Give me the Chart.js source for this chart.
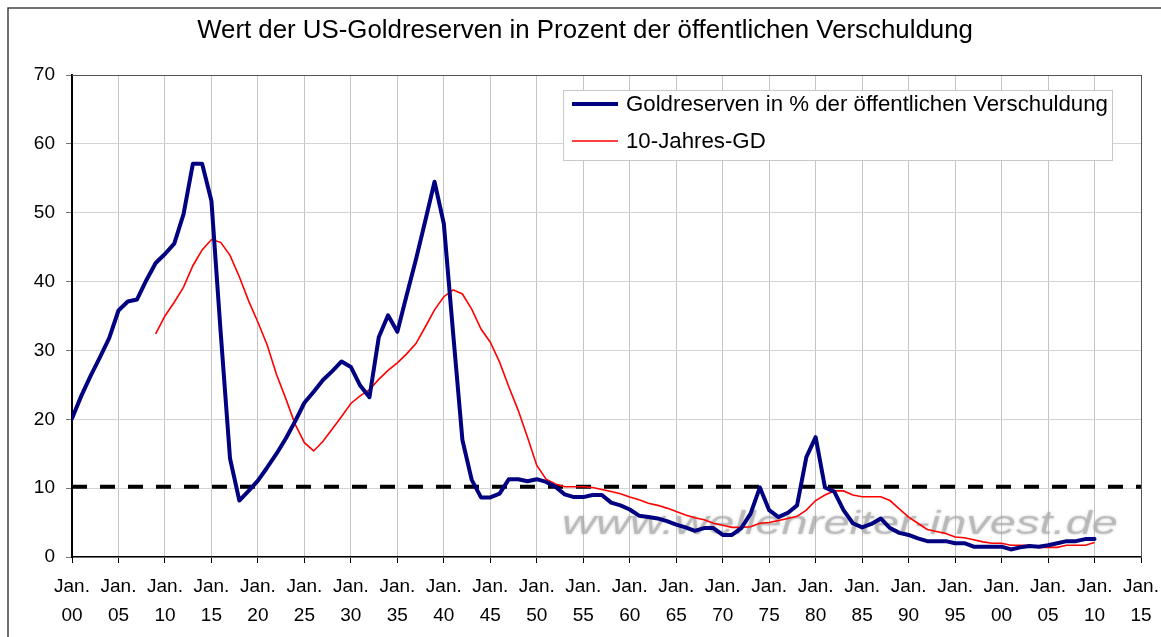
<!DOCTYPE html>
<html><head><meta charset="utf-8">
<script src="https://cdn.jsdelivr.net/npm/chart.js@4.4.1/dist/chart.umd.min.js"></script>
<style>html,body{margin:0;padding:0;background:#fff}canvas{display:block}</style>
</head><body>
<canvas id="c" width="1161" height="637"></canvas>
<script>
const years = [1900,1901,1902,1903,1904,1905,1906,1907,1908,1909,
  1910,1911,1912,1913,1914,1915,1916,1917,1918,1919,
  1920,1921,1922,1923,1924,1925,1926,1927,1928,1929,
  1930,1931,1932,1933,1934,1935,1936,1937,1938,1939,
  1940,1941,1942,1943,1944,1945,1946,1947,1948,1949,
  1950,1951,1952,1953,1954,1955,1956,1957,1958,1959,
  1960,1961,1962,1963,1964,1965,1966,1967,1968,1969,
  1970,1971,1972,1973,1974,1975,1976,1977,1978,1979,
  1980,1981,1982,1983,1984,1985,1986,1987,1988,1989,
  1990,1991,1992,1993,1994,1995,1996,1997,1998,1999,
  2000,2001,2002,2003,2004,2005,2006,2007,2008,2009,2010];

const goldPct = [20.1,23.4,26.3,29.0,31.8,35.8,37.1,37.4,40.2,42.7,
  44.0,45.5,49.8,57.1,57.1,51.7,32.5,14.3,8.2,9.6,
  11.1,13.0,15.0,17.2,19.7,22.4,24.0,25.7,27.0,28.4,
  27.6,24.9,23.2,31.9,35.1,32.7,38.0,43.2,48.8,54.5,
  48.4,32.5,17.0,11.2,8.65,8.65,9.2,11.3,11.3,11.0,
  11.3,10.9,10.2,9.1,8.7,8.7,9.0,9.0,7.9,7.5,
  6.9,6.0,5.8,5.6,5.2,4.7,4.3,3.8,4.2,4.2,
  3.2,3.2,4.2,6.3,10.1,6.8,5.8,6.4,7.5,14.5,
  17.4,10.1,9.5,6.8,4.9,4.3,4.8,5.6,4.2,3.5,
  3.2,2.7,2.3,2.3,2.3,2.0,2.0,1.5,1.5,1.5,
  1.5,1.1,1.4,1.6,1.5,1.7,2.0,2.3,2.3,2.6,2.6];

const avg10 = [null,null,null,null,null,null,null,null,null,32.4,
  35.0,37.0,39.2,42.3,44.6,46.1,45.7,43.8,40.7,37.2,
  34.1,30.8,26.5,23.0,19.3,16.6,15.4,16.8,18.6,20.4,
  22.3,23.4,24.3,25.8,27.1,28.2,29.5,31.0,33.4,35.9,
  37.8,38.8,38.2,36.0,33.1,31.2,28.3,24.7,21.3,17.4,
  13.3,11.3,10.6,10.2,10.2,10.2,10.1,9.8,9.5,9.2,
  8.7,8.3,7.8,7.5,7.1,6.6,6.1,5.7,5.4,4.9,
  4.6,4.3,4.3,4.4,4.9,5.0,5.3,5.6,5.9,6.8,
  8.2,9.0,9.6,9.6,9.0,8.75,8.75,8.75,8.2,7.0,
  5.8,4.9,4.0,3.7,3.4,2.9,2.8,2.5,2.2,2.0,
  2.0,1.7,1.7,1.7,1.4,1.4,1.4,1.7,1.7,1.7,2.1];

const thresholdLevel = 10.2;
const thresholdSpan = [1900, 2015];
const xTickLabels = ['00','05','10','15','20','25','30','35','40','45','50','55',
  '60','65','70','75','80','85','90','95','00','05','10','15'];
const xMonthLabel = 'Jan.';
const seriesNames = ['Goldreserven in % der öffentlichen Verschuldung', '10-Jahres-GD'];
const titleText = 'Wert der US-Goldreserven in Prozent der öffentlichen Verschuldung';
const watermarkText = 'www.wellenreiter-invest.de';

const FONT = '"Liberation Sans", Arial, sans-serif';
const BLUE = '#000080', RED = '#ff0000';

function fitSize(ctx, text, target, style) {
  ctx.font = style + ' 100px ' + FONT;
  return 100 * target / ctx.measureText(text).width;
}

const decor = {
  id: 'decor',
  beforeDraw(chart) {
    const c = chart.ctx;
    c.save(); c.fillStyle = '#fff'; c.fillRect(0, 0, chart.width, chart.height); c.restore();
  },
  beforeDatasetsDraw(chart) {
    const c = chart.ctx;
    c.save();
    c.font = 'italic 33px ' + FONT;
    const w = c.measureText(watermarkText).width;
    c.translate(562, 534);
    c.scale(556 / w, 1);
    c.fillStyle = 'rgba(165,165,165,0.6)';
    c.shadowColor = 'rgba(165,165,165,0.9)';
    c.shadowBlur = 3;
    c.textBaseline = 'alphabetic';
    c.textAlign = 'left';
    c.fillText(watermarkText, 0, 0);
    c.restore();
  },
  afterDatasetsDraw(chart) {
    const c = chart.ctx;
    c.save();
    c.fillStyle = '#fff';
    c.fillRect(563.5, 90.5, 549, 70);
    c.strokeStyle = '#c8c8c8'; c.lineWidth = 1;
    c.strokeRect(563.5, 90.5, 549, 70);
    const s = fitSize(c, seriesNames[0], 482, '');
    c.font = s + 'px ' + FONT;
    c.fillStyle = '#000'; c.textBaseline = 'middle'; c.textAlign = 'left';
    const rows = [[104, BLUE, 4], [141, RED, 1.6]];
    rows.forEach((r, i) => {
      c.beginPath(); c.strokeStyle = r[1]; c.lineWidth = r[2]; c.lineCap = 'butt';
      c.moveTo(572, r[0]); c.lineTo(618, r[0]); c.stroke();
      c.fillText(seriesNames[i], 626, r[0] + 1);
    });
    c.restore();
  },
  afterDraw(chart) {
    const c = chart.ctx, a = chart.chartArea;
    c.save();
    const s = fitSize(c, titleText, 776, '');
    c.font = s + 'px ' + FONT;
    c.fillStyle = '#000'; c.textAlign = 'center'; c.textBaseline = 'middle';
    c.fillText(titleText, 585, 31);
    c.strokeStyle = '#444'; c.lineWidth = 1.5;
    c.beginPath();
    c.moveTo(8, chart.height + 5); c.lineTo(8, 8); c.lineTo(chart.width + 5, 8);
    c.stroke();
    c.strokeStyle = '#555'; c.lineWidth = 1;
    c.beginPath();
    c.moveTo(a.left, a.top + 0.5); c.lineTo(a.right + 0.5, a.top + 0.5); c.lineTo(a.right + 0.5, a.bottom);
    c.stroke();
    c.restore();
  }
};

new Chart(document.getElementById('c'), {
  type: 'line',
  data: {
    datasets: [
      { label: seriesNames[0], data: years.map((y, i) => ({x: y, y: goldPct[i]})),
        borderColor: BLUE, borderWidth: 4, pointRadius: 0, tension: 0, order: 0,
        borderJoinStyle: 'round', borderCapStyle: 'round' },
      { label: seriesNames[1], data: years.map((y, i) => ({x: y, y: avg10[i]})),
        borderColor: RED, borderWidth: 1.6, pointRadius: 0, tension: 0, order: 1, spanGaps: false },
      { label: 'threshold', data: thresholdSpan.map(x => ({x: x, y: thresholdLevel})),
        borderColor: '#000', borderWidth: 4, borderDash: [15, 13], pointRadius: 0, order: 2 }
    ]
  },
  options: {
    responsive: false, animation: false, devicePixelRatio: 1,
    layout: { padding: { top: 75, right: 20, left: 0, bottom: 0 } },
    plugins: { legend: { display: false }, title: { display: false }, tooltip: { enabled: false } },
    scales: {
      x: {
        type: 'linear', min: 1900, max: 2015,
        afterFit(s) { s.height = 80; s.paddingLeft = 0; s.paddingRight = 0; },
        border: { color: '#000', width: 1.5 },
        grid: { color: (ctx) => ctx.tick && ctx.tick.value === 2015 ? '#555' : '#c4c4c4',
                lineWidth: 1, tickLength: 6, tickColor: '#000', drawTicks: true },
        ticks: { stepSize: 5, autoSkip: false, maxRotation: 0, minRotation: 0, padding: 9, color: '#000',
                 font: { family: FONT, size: 19, lineHeight: 1.55 },
                 callback: (v, i) => [xMonthLabel, xTickLabels[i]] }
      },
      y: {
        min: 0, max: 70,
        afterFit(s) { s.width = 72; s.paddingTop = 0; s.paddingBottom = 0; },
        border: { color: '#000', width: 2 },
        grid: { color: (ctx) => ctx.tick && ctx.tick.value === 70 ? '#555' : '#d4d4d4',
                lineWidth: 1, tickLength: 6, tickColor: '#777' },
        ticks: { stepSize: 10, padding: 11, color: '#000', font: { family: FONT, size: 19 } }
      }
    }
  },
  plugins: [decor]
});
</script>
</body></html>
